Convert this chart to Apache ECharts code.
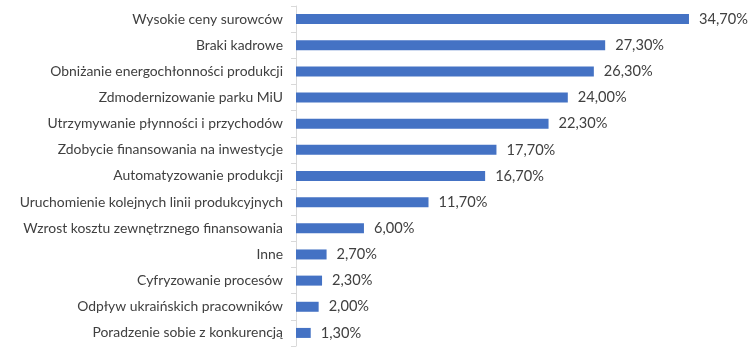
<!DOCTYPE html>
<html>
<head>
<meta charset="utf-8">
<script src="https://cdn.jsdelivr.net/npm/echarts@6/dist/echarts.min.js"></script>
<style>
    html, body { margin: 0; padding: 0; background: #fff; }
    #chart { width: 756px; height: 354px; }
</style>
</head>
<body>
<div id="chart"></div>
<script>
// kategorie i wartosci (%)
var categories = [
    'Wysokie ceny surowców',
    'Braki kadrowe',
    'Obniżanie energochłonności produkcji',
    'Zdmodernizowanie parku MiU',
    'Utrzymywanie płynności i przychodów',
    'Zdobycie finansowania na inwestycje',
    'Automatyzowanie produkcji',
    'Uruchomienie kolejnych linii produkcyjnych',
    'Wzrost kosztu zewnętrznego finansowania',
    'Inne',
    'Cyfryzowanie procesów',
    'Odpływ ukraińskich pracowników',
    'Poradzenie sobie z konkurencją'
];
var values = [34.7, 27.3, 26.3, 24.0, 22.3, 17.7, 16.7, 11.7, 6.0, 2.7, 2.3, 2.0, 1.3];

var myChart = echarts.init(document.getElementById('chart'));
var option = {
    animation: false,
    grid: {
        left: 296,
        right: 7,
        top: 6,
        bottom: 8
    },
    xAxis: {
        type: 'value',
        min: 0,
        max: 40,
        show: false
    },
    yAxis: {
        type: 'category',
        inverse: true,
        data: categories,
        axisLine: { lineStyle: { color: '#d9d9d9' } },
        axisTick: { show: true, length: 5, lineStyle: { color: '#d9d9d9' } },
        axisLabel: {
            margin: 13,
            fontFamily: 'Lato',
            fontSize: 13.9,
            color: '#404040'
        }
    },
    series: [{
        type: 'bar',
        data: values,
        barWidth: 10,
        itemStyle: { color: '#4472C4' },
        label: {
            show: true,
            position: 'right',
            distance: 10,
            fontFamily: 'Lato',
            fontSize: 14.6,
            color: '#404040',
            formatter: function (p) {
                return p.value.toFixed(2).replace('.', ',') + '%';
            }
        }
    }]
};
myChart.setOption(option);
</script>
</body>
</html>
